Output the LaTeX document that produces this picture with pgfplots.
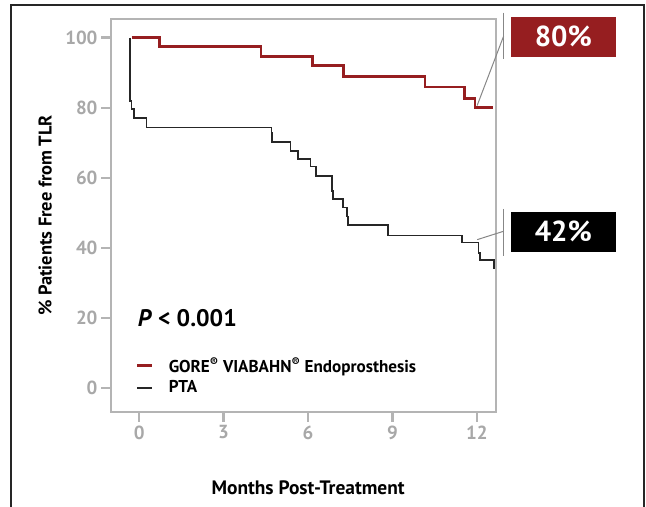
\documentclass[border=0pt]{standalone}
\usepackage{fontspec}
\setmainfont{PT Sans}
\usepackage{pgfplots}
\pgfplotsset{compat=1.18}
\definecolor{gorered}{RGB}{150,30,32}
\definecolor{axgray}{RGB}{180,180,180}
\definecolor{tickgray}{RGB}{168,168,168}
\definecolor{leadgray}{RGB}{135,135,135}

\begin{document}
\begin{tikzpicture}[x=1bp,y=1bp]
\useasboundingbox (0,0) rectangle (646,507);
% outer frame, open at the bottom
\draw[line width=1.5bp, black!85] (11,-5) -- (11,502) -- (644,502) -- (644,-5);
\begin{axis}[
  at={(111bp,95bp)}, anchor=south west,
  scale only axis, width=385bp, height=393bp,
  xmin=-1, xmax=12.68, ymin=-6.9, ymax=105.3,
  xtick={0,3,6,9,12}, ytick={0,20,40,60,80,100},
  tick pos=left, tick align=outside,
  major tick length=10bp,
  axis line style={axgray, line width=2.2bp},
  every tick/.style={axgray, line width=2.2bp},
  /pgf/number format/assume math mode=true,
  tick label style={font=\fontsize{19}{19}\selectfont\bfseries, text=tickgray},
  xlabel={Months Post-Treatment},
  xlabel style={font=\fontsize{19.5}{19.5}\selectfont\bfseries, at={(axis description cs:0.512,-0.193)}, anchor=center},
  ylabel={\% Patients Free from TLR},
  ylabel style={font=\fontsize{18.5}{18.5}\selectfont\bfseries, at={(axis description cs:-0.171,0.5)}, anchor=center},
  clip=false,
  legend style={draw=none, fill=none, at={(axis cs:-0.12,9.35)}, anchor=north west,
    font=\fontsize{17.2}{17.2}\selectfont\bfseries, row sep=3bp, inner sep=0pt},
  legend cell align=left,
  legend image code/.code={\draw[#1] (0bp,0bp) -- (15bp,0bp); \path (28bp,0bp);},
]
% GORE VIABAHN Endoprosthesis
\addplot[const plot, gorered, line width=2.8bp] coordinates {
  (-0.27,100) (0.71,97.5) (4.33,94.7) (6.15,92.0) (7.26,88.9)
  (10.16,85.9) (11.57,82.7) (11.93,80.1) (12.58,80.1)
};
\addlegendentry{GORE\textsuperscript{\textregistered} VIABAHN\textsuperscript{\textregistered} Endoprosthesis}
% PTA
\addplot[const plot, black!85, line width=1.8bp] coordinates {
  (-0.32,100) (-0.32,82.0) (-0.27,79.6) (-0.17,77.1) (0.26,74.3)
  (4.70,72.9) (4.73,70.2) (5.38,67.7) (5.65,65.4) (6.09,63.2)
  (6.28,60.4) (6.86,56.1) (6.89,53.9) (7.23,51.5) (7.38,48.9)
  (7.41,46.4) (8.85,43.5) (11.46,41.5) (12.06,38.5) (12.10,36.6)
  (12.60,34.0)
};
\addlegendentry{PTA}

\node[anchor=west, inner sep=0pt, font=\fontsize{24}{24}\selectfont\bfseries] at (axis cs:-0.05,20) {\textit{P} < 0.001};

% call-outs
\draw[leadgray, line width=1bp] (axis cs:12.01,80.6) -- (axis cs:12.95,100.4);
\draw[leadgray, line width=1.6bp] (axis cs:12.95,107.1) -- (axis cs:12.95,94.0);
\node[fill=gorered, text=white, minimum width=105bp, minimum height=40bp, inner sep=0pt,
  font=\fontsize{29}{29}\selectfont\bfseries] at (axis cs:15.07,100.3) {80\%};
\draw[leadgray, line width=1bp] (axis cs:12.01,42.3) -- (axis cs:12.95,44.7);
\draw[leadgray, line width=1.6bp] (axis cs:12.95,51.1) -- (axis cs:12.95,37.7);
\node[fill=black, text=white, minimum width=105bp, minimum height=40bp, inner sep=0pt,
  font=\fontsize{29}{29}\selectfont\bfseries] at (axis cs:15.07,44.6) {42\%};
\end{axis}
\end{tikzpicture}
\end{document}
